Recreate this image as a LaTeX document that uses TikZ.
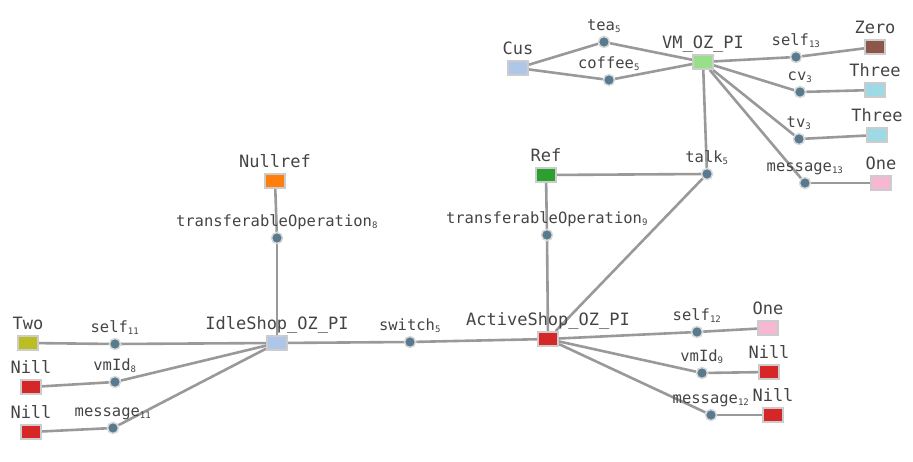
\documentclass[tikz,border=0pt]{standalone}
\usepackage{fontspec}
\setmonofont{DejaVu Sans Mono}
\usetikzlibrary{backgrounds}
\definecolor{edgegray}{HTML}{999999}
\definecolor{boxrim}{HTML}{CCCCCC}
\definecolor{dotrim}{HTML}{D8D8D8}
\definecolor{dotfill}{HTML}{587A8E}
\definecolor{ink}{HTML}{444444}
\definecolor{c-lblue}{HTML}{AEC7E8}
\definecolor{c-lgreen}{HTML}{98DF8A}
\definecolor{c-brown}{HTML}{8C564B}
\definecolor{c-cyan}{HTML}{9EDAE5}
\definecolor{c-pink}{HTML}{F7B6D2}
\definecolor{c-green}{HTML}{2CA02C}
\definecolor{c-orange}{HTML}{FF7F0E}
\definecolor{c-red}{HTML}{D62728}
\definecolor{c-olive}{HTML}{BCBD22}
\newcommand{\ix}[1]{\textsubscript{\fontsize{9}{9}\selectfont #1}}
\tikzset{l/.style={font=\fontsize{17}{17}\selectfont\ttfamily,text=ink}}
\tikzset{m/.style={font=\fontsize{15.5}{15.5}\selectfont\ttfamily,text=ink}}
\tikzset{obj/.style={rectangle,draw=boxrim,line width=2pt,minimum width=20pt,minimum height=14pt,inner sep=0pt}}
\tikzset{rel/.style={circle,fill=dotfill,draw=dotrim,line width=1.5pt,minimum size=11pt,inner sep=0pt}}
\tikzset{nl/.style={label={[l,anchor=base,label distance=5.5pt]above:{#1}}}}
\tikzset{el/.style={label={[m,anchor=base,label distance=5pt]above:{#1}}}}
\tikzset{link/.style={draw=edgegray,line width=2.6pt}}

\begin{document}
\begin{tikzpicture}[x=1pt,y=-1pt]
      \useasboundingbox (0,0) rectangle (913,462);
      \node[obj,fill=c-lblue,nl=Cus] (cus) at (518,68) {};
      \node[obj,fill=c-lgreen,nl={VM\_OZ\_PI}] (vm) at (703,62) {};
      \node[obj,fill=c-brown,nl=Zero] (zero) at (875,47) {};
      \node[obj,fill=c-cyan,nl=Three] (three1) at (875,90) {};
      \node[obj,fill=c-cyan,nl=Three] (three2) at (877,135) {};
      \node[obj,fill=c-pink,nl=One] (one1) at (881,183) {};
      \node[obj,fill=c-green,nl=Ref] (ref) at (546,175) {};
      \node[obj,fill=c-orange,nl=Nullref] (nullref) at (275,181) {};
      \node[obj,fill=c-lblue,nl={IdleShop\_OZ\_PI}] (idle) at (277,343) {};
      \node[obj,fill=c-red,nl={ActiveShop\_OZ\_PI}] (active) at (548,339) {};
      \node[obj,fill=c-olive,nl=Two] (two) at (28,343) {};
      \node[obj,fill=c-red,nl=Nill] (nill1) at (31,387) {};
      \node[obj,fill=c-red,nl=Nill] (nill2) at (31,432) {};
      \node[obj,fill=c-pink,nl=One] (one2) at (768,328) {};
      \node[obj,fill=c-red,nl=Nill] (nill3) at (769,372) {};
      \node[obj,fill=c-red,nl=Nill] (nill4) at (773,415) {};

      \node[rel,el={tea\ix{5}}] (tea) at (604,42) {};
      \node[rel,el={coffee\ix{5}}] (coffee) at (609,80) {};
      \node[rel,el={self\ix{13}}] (selfa) at (796,57) {};
      \node[rel,el={cv\ix{3}}] (cv) at (800,92) {};
      \node[rel,el={tv\ix{3}}] (tv) at (799,139) {};
      \node[rel,el={message\ix{13}}] (msga) at (805,183) {};
      \node[rel,el={talk\ix{5}}] (talk) at (707,174) {};
      \node[rel,el={transferableOperation\ix{8}}] (tra) at (277,238) {};
      \node[rel,el={transferableOperation\ix{9}}] (trb) at (547,235) {};
      \node[rel,el={switch\ix{5}}] (switch) at (410,342) {};
      \node[rel,el={self\ix{11}}] (selfb) at (115,344) {};
      \node[rel,el={vmId\ix{8}}] (vmida) at (115,382) {};
      \node[rel,el={message\ix{11}}] (msgb) at (113,428) {};
      \node[rel,el={self\ix{12}}] (selfc) at (697,332) {};
      \node[rel,el={vmId\ix{9}}] (vmidb) at (702,373) {};
      \node[rel,el={message\ix{12}}] (msgc) at (711,415) {};

      \begin{scope}[on background layer,every edge/.style={link}]
        \path (cus) edge (tea) edge (coffee);
        \path (vm) edge (tea) edge (coffee) edge (selfa) edge (cv)
          edge (tv) edge (msga) edge (talk);
        \path (zero) edge (selfa);
        \path (three1) edge (cv);
        \path (three2) edge (tv);
        \path (one1) edge (msga);
        \path (ref) edge (talk) edge (trb);
        \path (active) edge (talk) edge (trb) edge (switch)
          edge (selfc) edge (vmidb) edge (msgc);
        \path (nullref) edge (tra);
        \path (idle) edge (tra) edge (switch) edge (selfb)
          edge (vmida) edge (msgb);
        \path (two) edge (selfb);
        \path (nill1) edge (vmida);
        \path (nill2) edge (msgb);
        \path (one2) edge (selfc);
        \path (nill3) edge (vmidb);
        \path (nill4) edge (msgc);
      \end{scope}
    \end{tikzpicture}
\end{document}
